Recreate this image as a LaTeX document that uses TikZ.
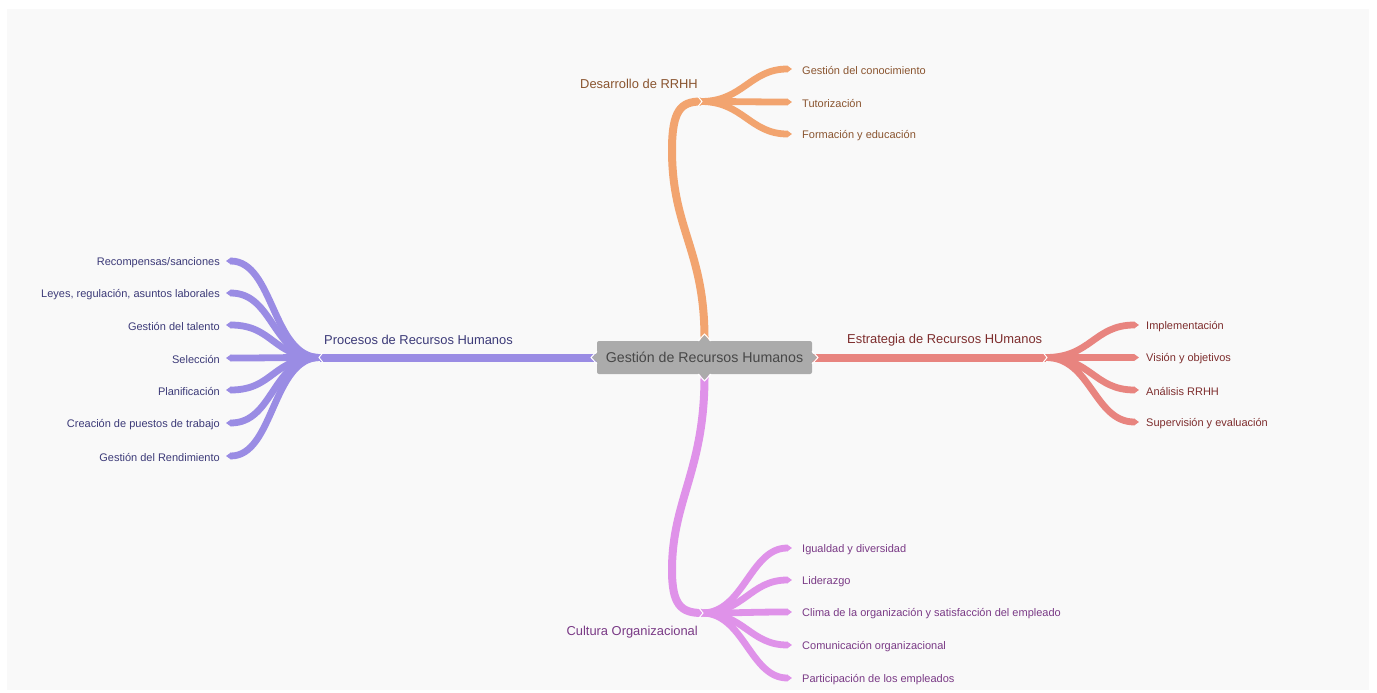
\documentclass[tikz,border=0pt]{standalone}
\usepackage{fontspec}
\setmainfont{Liberation Sans}
\usetikzlibrary{arrows.meta,backgrounds}
\definecolor{bgpanel}{HTML}{F9F9F9}
\definecolor{orng}{HTML}{F2A46F}
\definecolor{blu}{HTML}{9A8CE4}
\definecolor{rd}{HTML}{E8847F}
\definecolor{pnk}{HTML}{DF92E9}
\definecolor{ctrgrey}{HTML}{ABABAB}
\definecolor{ctrtext}{HTML}{474747}
\definecolor{torng}{HTML}{8A5530}
\definecolor{tblu}{HTML}{3C3A78}
\definecolor{trd}{HTML}{7E2E2E}
\definecolor{tpnk}{HTML}{7A3A86}
\tikzset{
  stem/.style={line width=8pt},
  twig/.style={line width=6.8pt,-{Triangle[length=5pt,width=6.8pt]}},
  notch/.style={draw=white,line width=1pt},
  leaf/.style={inner sep=0pt,yshift=-1.2pt,font=\fontsize{11}{13}\selectfont},
  branchlabel/.style={inner sep=0pt,font=\fontsize{12.9}{15}\selectfont},
}
\begin{document}
\begin{tikzpicture}[x=1pt,y=-1pt]
\useasboundingbox (0,0) rectangle (1377,693);
% centre
\node[fill=ctrgrey,rounded corners=2pt,minimum width=215,minimum height=33,inner sep=0pt,
      text=ctrtext,font=\fontsize{14.2}{17}\selectfont] (ctr) at (704.5,357.5) {Gestión de Recursos Humanos};
\fill[ctrgrey] (598,352) -- (592,357.5) -- (598,363) -- cycle;
\fill[ctrgrey] (811,352) -- (817,357.5) -- (811,363) -- cycle;
\fill[ctrgrey] (699,341.5) -- (704.5,335) -- (710,341.5) -- cycle;
\fill[ctrgrey] (699,373.5) -- (704.5,380) -- (710,373.5) -- cycle;
\draw[notch] (597,351) -- (591,357.5) -- (597,364);
\draw[notch] (812,351) -- (818,357.5) -- (812,364);
\draw[notch] (698,341) -- (704.5,334) -- (711,341);
\draw[notch] (698,374) -- (704.5,381) -- (711,374);

% junctions
\coordinate (jt) at (701,101.5);
\coordinate (jb) at (702,613);
\coordinate (jl) at (320,357.5);
\coordinate (jr) at (1046,357.5);

% tips
\coordinate (t1) at (792,69);
\coordinate (t2) at (792,102);
\coordinate (t3) at (792,134);
\coordinate (l1) at (226,261);
\coordinate (l2) at (226,293);
\coordinate (l3) at (226,325);
\coordinate (l4) at (226,358);
\coordinate (l5) at (226,390);
\coordinate (l6) at (226,423);
\coordinate (l7) at (226,456);
\coordinate (r1) at (1139,325);
\coordinate (r2) at (1139,357.5);
\coordinate (r3) at (1139,390);
\coordinate (r4) at (1139,422);
\coordinate (b1) at (792,548);
\coordinate (b2) at (792,580);
\coordinate (b3) at (792,612);
\coordinate (b4) at (792,645);
\coordinate (b5) at (792,678);

\begin{scope}[on background layer]
\fill[bgpanel] (7,9) rectangle (1369,690);
% top
\draw[stem,orng] (ctr.north) .. controls (705,250) and (672,230) .. (672,150)
   .. controls (672,110) and (681,101.5) .. (jt);
\foreach \t in {t1,t2,t3}
  \draw[twig,orng] (jt) .. controls +(42,0) and +(-42,0) .. (\t);
% bottom
\draw[stem,pnk] (ctr.south) .. controls (705,470) and (672,500) .. (672,570)
   .. controls (672,605) and (681,613) .. (jb);
\foreach \t in {b1,b2,b3,b4,b5}
  \draw[twig,pnk] (jb) .. controls +(42,0) and +(-42,0) .. (\t);
% left
\draw[stem,blu] (ctr.west) -- (jl);
\foreach \t in {l1,l2,l3,l4,l5,l6,l7}
  \draw[twig,blu] (jl) .. controls +(-48,0) and +(48,0) .. (\t);
% right
\draw[stem,rd] (ctr.east) -- (jr);
\foreach \t in {r1,r2,r3,r4}
  \draw[twig,rd] (jr) .. controls +(45,0) and +(-45,0) .. (\t);
\end{scope}

% notches at junctions
\draw[notch] ([shift={(-3,-5)}]jt) -- ([shift={(1,0)}]jt) -- ([shift={(-3,5)}]jt);
\draw[notch] ([shift={(-3,-5)}]jb) -- ([shift={(1,0)}]jb) -- ([shift={(-3,5)}]jb);
\draw[notch] ([shift={(-3,-5)}]jr) -- ([shift={(1,0)}]jr) -- ([shift={(-3,5)}]jr);
\draw[notch] ([shift={(3,-5)}]jl) -- ([shift={(-1,0)}]jl) -- ([shift={(3,5)}]jl);

% branch labels
\node[branchlabel,text=torng,anchor=east] (bt) at (698,84) {Desarrollo de RRHH};
\node[branchlabel,text=tpnk,anchor=east] (bb) at (698,632) {Cultura Organizacional};
\node[branchlabel,text=tblu,anchor=west] (bl) at (324,339.5) {Procesos de Recursos Humanos};
\node[branchlabel,text=trd,anchor=west] (br) at (847,340) {Estrategia de Recursos HUmanos};

% leaves
\node[leaf,text=torng,anchor=west] (nt1) at (802,69) {Gestión del conocimiento};
\node[leaf,text=torng,anchor=west] (nt2) at (802,102) {Tutorización};
\node[leaf,text=torng,anchor=west] (nt3) at (802,134) {Formación y educación};

\node[leaf,text=tblu,anchor=east] (nl1) at (220,261) {Recompensas/sanciones};
\node[leaf,text=tblu,anchor=east] (nl2) at (220,293) {Leyes, regulación, asuntos laborales};
\node[leaf,text=tblu,anchor=east] (nl3) at (220,325) {Gestión del talento};
\node[leaf,text=tblu,anchor=east] (nl4) at (220,358) {Selección};
\node[leaf,text=tblu,anchor=east] (nl5) at (220,390) {Planificación};
\node[leaf,text=tblu,anchor=east] (nl6) at (220,423) {Creación de puestos de trabajo};
\node[leaf,text=tblu,anchor=east] (nl7) at (220,456) {Gestión del Rendimiento};

\node[leaf,text=trd,anchor=west] (nr1) at (1146,325) {Implementación};
\node[leaf,text=trd,anchor=west] (nr2) at (1146,357.5) {Visión y objetivos};
\node[leaf,text=trd,anchor=west] (nr3) at (1146,390) {Análisis RRHH};
\node[leaf,text=trd,anchor=west] (nr4) at (1146,422) {Supervisión y evaluación};

\node[leaf,text=tpnk,anchor=west] (nb1) at (802,548) {Igualdad y diversidad};
\node[leaf,text=tpnk,anchor=west] (nb2) at (802,580) {Liderazgo};
\node[leaf,text=tpnk,anchor=west] (nb3) at (802,612) {Clima de la organización y satisfacción del empleado};
\node[leaf,text=tpnk,anchor=west] (nb4) at (802,645) {Comunicación organizacional};
\node[leaf,text=tpnk,anchor=west] (nb5) at (802,678) {Participación de los empleados};
\end{tikzpicture}
\end{document}
